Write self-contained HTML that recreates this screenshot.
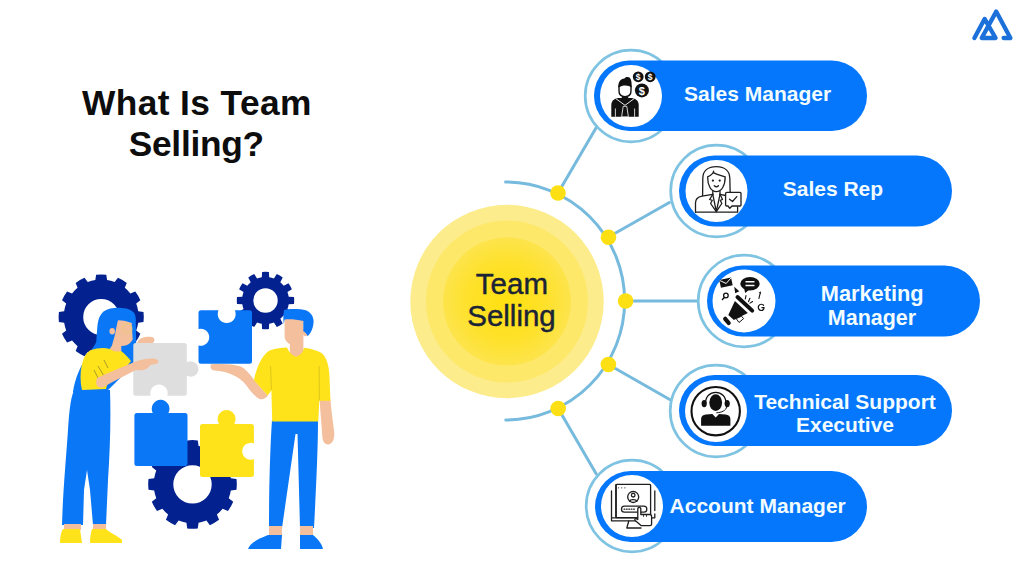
<!DOCTYPE html>
<html><head><meta charset="utf-8">
<style>
html,body{margin:0;padding:0;background:#fff;width:1024px;height:576px;overflow:hidden}
svg{position:absolute;left:0;top:0;display:block}
.t{font-family:"Liberation Sans",sans-serif}
</style></head><body>
<svg width="1024" height="576" viewBox="0 0 1024 576">
<rect width="1024" height="576" fill="#fff"/>
<text class="t" x="196.9" y="114.9" text-anchor="middle" font-weight="bold" font-size="35.3" letter-spacing="0.4" fill="#0d0d0d">What Is Team</text>
<text class="t" x="196.3" y="156.2" text-anchor="middle" font-weight="bold" font-size="35.3" letter-spacing="-0.25" fill="#0d0d0d">Selling?</text>

<path d="M974.4,38 L984.6,18.9 L995.6,38 L981.7,38 L996.2,11.6 L1010.4,38 L1003.6,38" fill="none" stroke="#1c70da" stroke-width="4.3" stroke-linejoin="round" stroke-linecap="round"/>

<g fill="#03228f" fill-rule="evenodd">
<path d="M138.24,311.13 L143.50,311.93 A42.6,42.6 0 0,1 143.50,322.07 L138.24,322.87 A37.5,37.5 0 0,1 136.21,330.44 L140.37,333.75 A42.6,42.6 0 0,1 135.29,342.54 L130.34,340.60 A37.5,37.5 0 0,1 124.80,346.14 L126.74,351.09 A42.6,42.6 0 0,1 117.95,356.17 L114.64,352.01 A37.5,37.5 0 0,1 107.07,354.04 L106.27,359.30 A42.6,42.6 0 0,1 96.13,359.30 L95.33,354.04 A37.5,37.5 0 0,1 87.76,352.01 L84.45,356.17 A42.6,42.6 0 0,1 75.66,351.09 L77.60,346.14 A37.5,37.5 0 0,1 72.06,340.60 L67.11,342.54 A42.6,42.6 0 0,1 62.03,333.75 L66.19,330.44 A37.5,37.5 0 0,1 64.16,322.87 L58.90,322.07 A42.6,42.6 0 0,1 58.90,311.93 L64.16,311.13 A37.5,37.5 0 0,1 66.19,303.56 L62.03,300.25 A42.6,42.6 0 0,1 67.11,291.46 L72.06,293.40 A37.5,37.5 0 0,1 77.60,287.86 L75.66,282.91 A42.6,42.6 0 0,1 84.45,277.83 L87.76,281.99 A37.5,37.5 0 0,1 95.33,279.96 L96.13,274.70 A42.6,42.6 0 0,1 106.27,274.70 L107.07,279.96 A37.5,37.5 0 0,1 114.64,281.99 L117.95,277.83 A42.6,42.6 0 0,1 126.74,282.91 L124.80,287.86 A37.5,37.5 0 0,1 130.34,293.40 L135.29,291.46 A42.6,42.6 0 0,1 140.37,300.25 L136.21,303.56 A37.5,37.5 0 0,1 138.24,311.13Z M119.20,317.00 A18,18 0 1,0 83.20,317.00 A18,18 0 1,0 119.20,317.00Z"/>
<path d="M288.71,296.82 L294.00,297.08 A28.7,28.7 0 0,1 294.00,303.92 L288.71,304.18 A23.5,23.5 0 0,1 287.44,308.92 L291.89,311.79 A28.7,28.7 0 0,1 288.47,317.71 L283.76,315.29 A23.5,23.5 0 0,1 280.29,318.76 L282.71,323.47 A28.7,28.7 0 0,1 276.79,326.89 L273.92,322.44 A23.5,23.5 0 0,1 269.18,323.71 L268.92,329.00 A28.7,28.7 0 0,1 262.08,329.00 L261.82,323.71 A23.5,23.5 0 0,1 257.08,322.44 L254.21,326.89 A28.7,28.7 0 0,1 248.29,323.47 L250.71,318.76 A23.5,23.5 0 0,1 247.24,315.29 L242.53,317.71 A28.7,28.7 0 0,1 239.11,311.79 L243.56,308.92 A23.5,23.5 0 0,1 242.29,304.18 L237.00,303.92 A28.7,28.7 0 0,1 237.00,297.08 L242.29,296.82 A23.5,23.5 0 0,1 243.56,292.08 L239.11,289.21 A28.7,28.7 0 0,1 242.53,283.29 L247.24,285.71 A23.5,23.5 0 0,1 250.71,282.24 L248.29,277.53 A28.7,28.7 0 0,1 254.21,274.11 L257.08,278.56 A23.5,23.5 0 0,1 261.82,277.29 L262.08,272.00 A28.7,28.7 0 0,1 268.92,272.00 L269.18,277.29 A23.5,23.5 0 0,1 273.92,278.56 L276.79,274.11 A28.7,28.7 0 0,1 282.71,277.53 L280.29,282.24 A23.5,23.5 0 0,1 283.76,285.71 L288.47,283.29 A28.7,28.7 0 0,1 291.89,289.21 L287.44,292.08 A23.5,23.5 0 0,1 288.71,296.82Z M277.70,300.50 A12.2,12.2 0 1,0 253.30,300.50 A12.2,12.2 0 1,0 277.70,300.50Z"/>
<path d="M230.82,478.33 L236.48,479.12 A44.3,44.3 0 0,1 236.48,489.68 L230.82,490.47 A38.8,38.8 0 0,1 228.72,498.30 L233.23,501.82 A44.3,44.3 0 0,1 227.95,510.96 L222.65,508.82 A38.8,38.8 0 0,1 216.92,514.55 L219.06,519.85 A44.3,44.3 0 0,1 209.92,525.13 L206.40,520.62 A38.8,38.8 0 0,1 198.57,522.72 L197.78,528.38 A44.3,44.3 0 0,1 187.22,528.38 L186.43,522.72 A38.8,38.8 0 0,1 178.60,520.62 L175.08,525.13 A44.3,44.3 0 0,1 165.94,519.85 L168.08,514.55 A38.8,38.8 0 0,1 162.35,508.82 L157.05,510.96 A44.3,44.3 0 0,1 151.77,501.82 L156.28,498.30 A38.8,38.8 0 0,1 154.18,490.47 L148.52,489.68 A44.3,44.3 0 0,1 148.52,479.12 L154.18,478.33 A38.8,38.8 0 0,1 156.28,470.50 L151.77,466.98 A44.3,44.3 0 0,1 157.05,457.84 L162.35,459.98 A38.8,38.8 0 0,1 168.08,454.25 L165.94,448.95 A44.3,44.3 0 0,1 175.08,443.67 L178.60,448.18 A38.8,38.8 0 0,1 186.43,446.08 L187.22,440.42 A44.3,44.3 0 0,1 197.78,440.42 L198.57,446.08 A38.8,38.8 0 0,1 206.40,448.18 L209.92,443.67 A44.3,44.3 0 0,1 219.06,448.95 L216.92,454.25 A38.8,38.8 0 0,1 222.65,459.98 L227.95,457.84 A44.3,44.3 0 0,1 233.23,466.98 L228.72,470.50 A38.8,38.8 0 0,1 230.82,478.33Z M211.70,484.40 A19.2,19.2 0 1,0 173.30,484.40 A19.2,19.2 0 1,0 211.70,484.40Z"/>
</g>
<path d="M136.9,413 L152.80,413 A8.9,8.9 0 1,1 168.40,413 L185.0,413 Q187.5,413 187.5,415.5 L187.5,463.6 Q187.5,466.1 185.0,466.1 L136.9,466.1 Q134.4,466.1 134.4,463.6 L134.4,415.5 Q134.4,413 136.9,413Z" fill="#0a77f7"/>
<path d="M202.5,423.9 L219.00,423.9 A9,9 0 1,1 234.20,423.9 L251.4,423.9 Q253.9,423.9 253.9,426.4 L253.9,443.50 A8.45,8.45 0 1,0 253.9,459.10 L253.9,474.5 Q253.9,477 251.4,477 L202.5,477 Q200,477 200,474.5 L200,426.4 Q200,423.9 202.5,423.9Z" fill="#fee31a"/>

<g id="woman">
<!-- hair back -->
<path d="M103.5,311.5 C108,308.5 114,307.6 119.2,307.8 C126,308 131,309.5 133.8,312.5 C136,315.5 136,320 135.8,322 L136.5,362 L106,392 L73,392 C75,378 81,365 87,356 C92,349 95,345 96.3,341.7 C97,335 97,326 98.3,320.8 C99,317 101,314 103.5,311.5Z" fill="#0a77f7"/>
<!-- face & neck -->
<path d="M118,320.3 C123,320.5 128,321.5 131.7,322.9 L132.7,339.6 C131,343 128,345.5 124.4,345.8 L121.3,346 L121.3,354 L108,354 C109.5,349 111,346.5 111.9,345.8 L115,334.4 C116,329 117,324 118,320.3Z" fill="#f4bf9d"/>
<ellipse cx="112.2" cy="331.2" rx="2.7" ry="3.3" fill="#f4bf9d"/>
<circle cx="127.5" cy="328.5" r="4.6" fill="none" stroke="#e0d060" stroke-width="0.7"/>
<!-- pants -->
<path d="M74,390 L110,390 C111,420 110,450 108,480 L106,525 L93,525 L90,490 L87,470 L84,490 L83,525 L62,525 C63,490 66,460 68,430 C69,415 70,400 74,390Z" fill="#0a77f7"/>
<!-- ankles -->
<path d="M64,524 L81,524 L81,530 L64,530Z M93,524 L106,524 L106,530 L93,530Z" fill="#f4bf9d"/>
<!-- shoes -->
<path d="M63,529 L80,529 L82,543 L60,543 C60,537 61,532 63,529Z" fill="#fee31a"/>
<path d="M92,529 L106,529 C110,533 118,536 122,540 L122,543 L90,543 C90,537 91,532 92,529Z" fill="#fee31a"/>
<!-- shirt -->
<path d="M91,350 C97,348 104,347 110,349 C114,352 118,352 121,351 C125,354 128,357 131,361 L124,370 L110,374 L106,389 L82,390 C80,382 80,372 82,364 C84,356 87,352 91,350Z" fill="#fee31a"/>
<path d="M98,366 L104,376 M94,370 L99,380 M104,360 L108,368" stroke="#6b6a3a" stroke-width="0.6" fill="none"/>
<path d="M135.8,343 L184.3,343 Q186.8,343 186.8,345.5 L186.8,362.40 A7.7,7.7 0 1,1 186.8,375.60 L186.8,393.3 Q186.8,395.8 184.3,395.8 L167.30,395.8 A8.7,8.7 0 1,0 150.70,395.8 L135.8,395.8 Q133.3,395.8 133.3,393.3 L133.3,345.5 Q133.3,343 135.8,343Z" fill="#dedede"/>
<!-- forearm -->
<path d="M97,378 C110,372 124,366 137,361 C143,359 150,358 156,359 C159,360 159,363 156,364 L150,365 C148,369 144,371 136,370 C124,376 112,382 104,387 C99,389 94,386 97,378Z" fill="#f4bf9d"/>
<!-- top hand -->
<path d="M137,343 C139,338 144,336 152,337 C155,338 155,341 153,343Z" fill="#f4bf9d"/>
</g>

<g id="man">
<!-- pants -->
<path d="M272,420 L318,420 C318,450 316,490 314,528 L300,528 L297.5,434 L295.5,434 L282,528 L269,528 C269,490 270,450 272,420Z" fill="#0a77f7"/>
<path d="M269,526 L282,526 L282,537 L269,537Z M300,526 L313,526 L313,537 L300,537Z" fill="#f4bf9d"/>
<path d="M268,535 L282,535 L281,549 L248,549 C250,543 258,539 268,535Z" fill="#0a77f7"/>
<path d="M300,535 L313,535 C318,539 322,544 323,549 L300,549Z" fill="#0a77f7"/>
<!-- right arm -->
<path d="M319.6,399 L330.4,399 C331.5,413 333.5,425 334.2,432 C334.8,438 333,443.5 328.5,444.5 C324.5,445 322.5,441 322.3,436 C321.5,424 320.3,412 319.6,399Z" fill="#f4bf9d"/>
<!-- neck/head -->
<path d="M284.6,316 L303.4,316 L303.4,359 L289.8,359 L289.8,344 C287,342.5 284.6,340 284.6,336Z" fill="#f4bf9d"/>
<ellipse cx="305.6" cy="332" rx="2.8" ry="4.2" fill="#f4bf9d"/>
<!-- hair -->
<path d="M284.1,309.9 C290,308.6 300,308.8 306.5,310.4 C311.5,312.5 314.5,318 313.4,324 C312.5,329.5 310.5,334 307.5,336 C306.5,333.5 305,332 303.3,331.3 L303.3,321 C297,319.5 290,319 284.6,319.5 L283.6,324 C283.2,318 283.3,313 284.1,309.9Z" fill="#0a77f7"/>
<!-- arm holding -->
<path d="M211,364.3 C222,363.5 233,364 241,366.5 C246,369.5 250.5,374.5 254.5,380.5 L267.8,395.6 C265.5,399 262.5,400 259.5,399 C255.5,397 251,392 246,385 C243,381 240,379 236,376.5 C229,372.5 221,371 213,370.3 C210.5,369 210,365.5 211,364.3Z" fill="#f4bf9d"/>
<!-- shirt -->
<path d="M269.5,350.4 C276,348.5 282,347.6 287,347.6 C289.5,353.5 293.5,356.5 296,356.5 C299.5,356.5 302.8,353 304,347.8 C311,348.6 317,350.6 321.6,353 C326.5,357 328.8,365 329.4,374.7 L330.4,400.8 L319.3,400.8 L318.3,421.6 L272.2,421.6 L271.4,390.3 L267.8,395.6 L253.9,380.2 C256.5,367 262,355 269.5,350.4Z" fill="#fee31a"/>
<path d="M270.6,366 L271.4,390 M319.2,366 L319.3,400.5" stroke="#c9b21a" stroke-width="0.6" fill="none"/>
</g>
<path d="M201.0,310.3 L218.50,310.3 A9.0,9.0 0 1,0 234.90,310.3 L249.5,310.3 Q252,310.3 252,312.8 L252,361.3 Q252,363.8 249.5,363.8 L201.0,363.8 Q198.5,363.8 198.5,361.3 L198.5,345.50 A8.5,8.5 0 1,0 198.5,329.10 L198.5,312.8 Q198.5,310.3 201.0,310.3Z" fill="#0a77f7"/>

<defs><radialGradient id="cg" cx="507" cy="301.5" r="64" gradientUnits="userSpaceOnUse"><stop offset="0" stop-color="#ffe010"/><stop offset="0.6" stop-color="#fee12a"/><stop offset="1" stop-color="#fde44c"/></radialGradient></defs>
<circle cx="507" cy="301.5" r="96.7" fill="#fcec8c"/>
<circle cx="507" cy="301.5" r="81" fill="#fde86a"/>
<circle cx="507" cy="301.5" r="64" fill="url(#cg)"/>
<text class="t" x="511.9" y="293.9" text-anchor="middle" font-size="29.5" fill="#1b2436" stroke="#1b2436" stroke-width="0.45">Team</text>
<text class="t" x="511.5" y="326.2" text-anchor="middle" font-size="29.5" fill="#1b2436" stroke="#1b2436" stroke-width="0.45">Selling</text>

<g stroke="#76badd" stroke-width="3" fill="none" stroke-linecap="round">
<path d="M505.6,182 A119,119 0 0,1 505.8,420"/>
<line x1="558" y1="193" x2="596" y2="128"/>
<line x1="608.5" y1="237" x2="669.4" y2="202.5"/>
<line x1="625.6" y1="301" x2="697" y2="301"/>
<line x1="608.4" y1="364.5" x2="669.7" y2="399.5"/>
<line x1="558.2" y1="408.5" x2="596.3" y2="474"/>
</g>
<g fill="#fde013">
<circle cx="558" cy="193" r="7.8"/>
<circle cx="608.5" cy="237.2" r="7.8"/>
<circle cx="625.6" cy="301" r="7.8"/>
<circle cx="608.4" cy="364.5" r="7.8"/>
<circle cx="558.2" cy="408.5" r="7.8"/>
</g>

<g id="pills">
<circle cx="631" cy="96" r="45.8" fill="#fff" stroke="#7fc3e2" stroke-width="2.7"/>
<rect x="594" y="60.5" width="273" height="70.5" rx="35.25" fill="#0477fd"/>
<circle cx="631" cy="96" r="31" fill="#fff"/>
<circle cx="716.5" cy="191" r="45.8" fill="#fff" stroke="#7fc3e2" stroke-width="2.7"/>
<rect x="679" y="155.5" width="273" height="71" rx="35.5" fill="#0477fd"/>
<circle cx="716.5" cy="191" r="31" fill="#fff"/>
<circle cx="744" cy="301" r="45.8" fill="#fff" stroke="#7fc3e2" stroke-width="2.7"/>
<rect x="707" y="265.5" width="273" height="71" rx="35.5" fill="#0477fd"/>
<circle cx="744" cy="301" r="31.5" fill="#fff"/>
<circle cx="716" cy="411" r="45.8" fill="#fff" stroke="#7fc3e2" stroke-width="2.7"/>
<rect x="679" y="375" width="273" height="71" rx="35.5" fill="#0477fd"/>
<circle cx="716" cy="411" r="31" fill="#fff"/>
<circle cx="632" cy="506" r="45.8" fill="#fff" stroke="#7fc3e2" stroke-width="2.7"/>
<rect x="595" y="471" width="272" height="71" rx="35.5" fill="#0477fd"/>
<circle cx="632" cy="506" r="31" fill="#fff"/>
</g>

<g class="t" font-weight="bold" font-size="21" fill="#f2fcff" text-anchor="middle">
<text x="757.6" y="101.4">Sales Manager</text>
<text x="832.9" y="196.3">Sales Rep</text>
<text x="872.2" y="301.2" font-size="21.8">Marketing</text>
<text x="872" y="325.2" font-size="21.5">Manager</text>
<text x="845" y="408.7">Technical Support</text>
<text x="845" y="432.3">Executive</text>
<text x="757.7" y="513.3">Account Manager</text>
</g>
<!-- icon1 sales manager -->
<g id="ic1">
<path d="M611.3,116.8 L611.3,105.5 C611.3,100.8 613.8,98.6 618.5,98 L631.5,98 C636.2,98.6 638.7,100.8 638.7,105.5 L638.7,116.8Z" fill="#111"/>
<path d="M615.8,98.6 L625,105.3 L634.2,98.6" fill="none" stroke="#fff" stroke-width="0.9"/>
<path d="M623.2,106.3 L626.8,106.3 L628.4,116.8 L621.6,116.8Z" fill="#111" stroke="#fff" stroke-width="0.8"/>
<path d="M615.4,108.5 L615.4,116.8 M634.6,108.5 L634.6,116.8" fill="none" stroke="#fff" stroke-width="0.8"/>
<path d="M621.8,95.5 L628.2,95.5 L628.2,98.5 L621.8,98.5Z" fill="#111"/>
<path d="M619,85.5 L619,90.8 C619,94.8 621.8,96.6 625,96.6 C628.2,96.6 631,94.8 631,90.8 L631,85.5" fill="#fff" stroke="#111" stroke-width="1.4"/>
<path d="M618.4,87.5 C618,81.5 620.5,78.6 624.5,78.4 C625.5,77 628.5,76.6 629.8,77.8 C631.6,79.8 631.8,83 631.6,87.5 C628.8,85.2 623.5,84.2 618.4,87.5Z" fill="#111"/>
<circle cx="638.2" cy="76.8" r="5.4" fill="#111"/>
<circle cx="650.2" cy="76.8" r="5.4" fill="#111"/>
<circle cx="641.9" cy="90.4" r="7" fill="#111"/>
<g font-family="Liberation Sans" font-weight="bold" fill="#fff" text-anchor="middle">
<text x="638.2" y="80.1" font-size="8.5">$</text>
<text x="650.2" y="80.1" font-size="8.5">$</text>
<text x="641.9" y="94.5" font-size="11">$</text>
</g>
</g>
<!-- icon2 sales rep -->
<g id="ic2" fill="none" stroke="#1e1e1e" stroke-width="1.3" stroke-linejoin="round" stroke-linecap="round">
<path d="M702.6,195.5 L702.8,178 C703,170.5 708.5,166.7 716.3,166.7 C724,166.7 729.5,170.5 729.8,178 L730.2,194"/>
<path d="M707.6,176.8 C707.6,185.5 711,191.6 716.3,191.6 C721.6,191.6 725.2,185.5 725.2,176.8 C722,175.5 717,174.8 713.5,172.6 C711.5,174.8 709.5,176 707.6,176.8Z"/>
<path d="M713.2,172.6 L713.6,171.2"/>
<circle cx="712.9" cy="180.6" r="0.5" fill="#2a2a2a"/>
<circle cx="719.7" cy="180.6" r="0.5" fill="#2a2a2a"/>
<path d="M714.3,185.8 C715.5,187 717.3,187 718.5,185.8"/>
<path d="M712.8,191 L712.8,194.5 M720,191 L720,194.5"/>
<path d="M695.5,212.2 L695.5,203 C695.5,199 698,197 702,196.2 L712.8,194.3 L716.3,211.6 L720,194.3 L725.5,195.5"/>
<path d="M712.8,194.3 L709.6,199.5 L712.3,200.3 L710.6,203.5 L716.3,211.6 L721.8,203.5 L720.3,200.3 L722.5,199.5 L720,194.3"/>
<path d="M695.5,212.2 L737.6,212.2 L737.6,207"/>
<path d="M726.8,192.3 L740,192.3 C740.8,192.3 741,192.7 741,193.4 L741,205 C741,205.7 740.7,206 740,206 L732,206 L729.8,208.3 L728,206 L726.8,206 C726,206 725.6,205.7 725.6,205 L725.6,193.4 C725.6,192.7 726,192.3 726.8,192.3Z" fill="#fff"/>
<path d="M729.5,199.2 L732.5,201.5 L736.8,196.6" stroke-width="1.3"/>
</g>
<!-- icon3 megaphone -->
<g id="ic3">
<ellipse cx="750" cy="283.7" rx="9.7" ry="6.8" fill="#111"/>
<path d="M744,288 L745.2,293 L749.5,289.5Z" fill="#111"/>
<path d="M745.5,281.8 L754.5,281.8 M745.5,285.6 L754.5,285.6" stroke="#fff" stroke-width="1.5"/>
<g transform="rotate(-12 726 282.7)">
<rect x="720" y="278.6" width="12" height="8" fill="#111"/>
<path d="M720.3,279.2 L726,283.5 L731.7,279.2" fill="none" stroke="#fff" stroke-width="0.9"/>
</g>
<path d="M734.2,286.8 L739.3,291.3 L735.2,293.2Z" fill="#111"/>
<circle cx="725.9" cy="295.5" r="2.3" fill="none" stroke="#111" stroke-width="1.3"/>
<path d="M724.3,297.4 L722.4,299.4" stroke="#111" stroke-width="1.4" stroke-linecap="round"/>
<path d="M734.9,301.1 L747.8,312.9 L733.9,319.9 L728.3,315Z" fill="#111"/>
<path d="M737.5,297 L752.2,310.6" stroke="#111" stroke-width="4" stroke-linecap="round"/>
<path d="M725.2,318.8 L728.7,323" stroke="#111" stroke-width="4.2" stroke-linecap="round"/>
<path d="M736.2,318.6 L741.5,316.2 L743.6,318.6 L739,322.5Z" fill="#fff" stroke="#111" stroke-width="1"/>
<path d="M746,295.6 L745.3,299 M749.9,298.3 L748.5,301.6 M752.6,301.5 L750,303.1" stroke="#111" stroke-width="1.1" stroke-linecap="round"/>
<path d="M760.3,292.8 L758.8,298.8" stroke="#111" stroke-width="1.1"/>
<path d="M758.8,292.8 L760.6,291.2 L761.2,293.8Z" fill="#111"/>
<path d="M763.8,305.8 C763,304 760,303.6 758.8,305.6 C757.6,307.8 759,310.5 761.2,310.5 C763,310.5 764,309.3 764,307.6 L761.5,307.6" fill="none" stroke="#111" stroke-width="1.2"/>
</g>
<!-- icon4 headset -->
<g id="ic4">
<circle cx="715.7" cy="411.2" r="24.2" fill="none" stroke="#111" stroke-width="2.1"/>
<ellipse cx="715.7" cy="402.6" rx="6.4" ry="8.4" fill="#111"/>
<path d="M705.5,403.5 C705.5,396.5 710,392.3 715.7,392.3 C721.4,392.3 726,396.5 726,403.5" fill="none" stroke="#111" stroke-width="1.2"/>
<ellipse cx="704.2" cy="403.6" rx="2.6" ry="3.6" fill="#111"/>
<ellipse cx="727.2" cy="403.6" rx="2.6" ry="3.6" fill="#111"/>
<path d="M726.6,406.8 C726.2,410.5 721.5,412.6 716.3,412.8" fill="none" stroke="#111" stroke-width="1"/>
<path d="M701.1,425.8 L701.1,419 C701.1,416.2 703,414.8 706,414.5 L712.4,414 L715.7,417.6 L719,414 L725.4,414.5 C728.4,414.8 730.4,416.2 730.4,419 L730.4,425.8Z" fill="#111"/>
</g>
<!-- icon5 account -->
<g id="ic5" fill="none" stroke="#1e1e1e" stroke-width="1.3" stroke-linejoin="round" stroke-linecap="round">
<path d="M611.5,490.8 L611.5,520.8 L636,520.8 M611.5,517.8 L635,517.8"/>
<path d="M654.8,490.8 L654.8,510.5 M654.8,514 L654.8,517.8 L652,517.8"/>
<rect x="615.8" y="484.4" width="34.8" height="33.2" rx="1" fill="#fff"/>
<path d="M616.2,517.6 L616.2,484.6"/>
<circle cx="618.6" cy="487.8" r="0.6" fill="#2a2a2a" stroke="none"/>
<circle cx="621.8" cy="487.8" r="0.6" fill="#2a2a2a" stroke="none"/>
<circle cx="624.9" cy="487.8" r="0.6" fill="#2a2a2a" stroke="none"/>
<circle cx="633.2" cy="497" r="5.5"/>
<circle cx="633.2" cy="495.2" r="1.8"/>
<path d="M629.6,501.3 C630.3,499 636.1,499 636.8,501.3"/>
<rect x="621.5" y="506.2" width="25.3" height="5.9" rx="2.9" fill="#fff"/>
<path d="M624,509.2 L635,509.2" stroke-dasharray="0.8 1.6" stroke-width="1.2"/>
<path d="M628.8,521 L626.8,528 L641,528"/>
<path d="M637.8,517 L637.8,508.4 C637.8,507 640.8,507 640.8,508.4 L640.8,514.5 L649.5,514.5 C651,514.5 651.6,515.3 651.6,516.5 L651.6,524 C651.6,525 651,525.6 650,525.6 L641,525.6 L635.2,520.5 C634.5,519.5 635,518.3 636.3,518.6 L637.8,519.5Z" fill="#fff"/>
<path d="M643.5,514.5 L643.5,516.5 M646.5,514.5 L646.5,516.5" stroke-width="0.8"/>
</g>

</svg>
</body></html>
